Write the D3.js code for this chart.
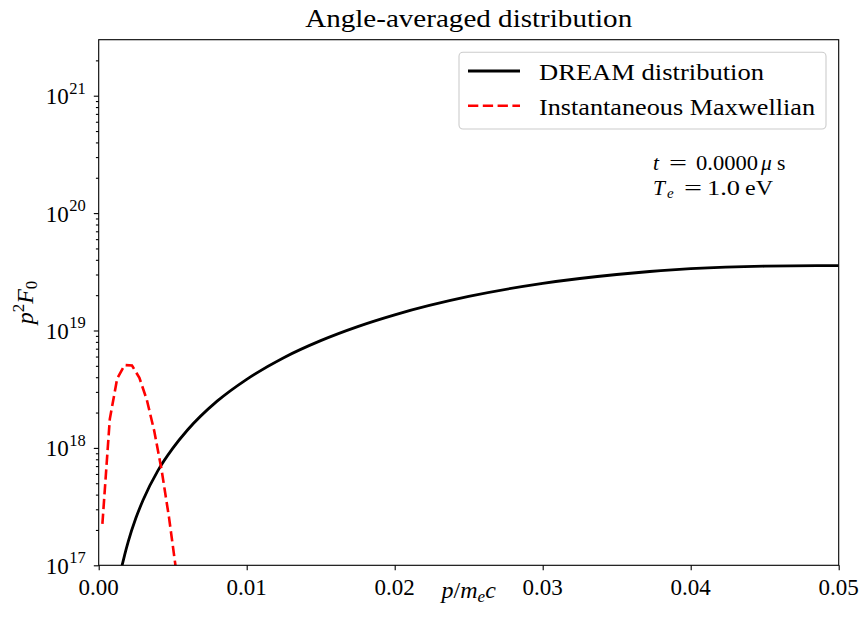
<!DOCTYPE html>
<html><head><meta charset="utf-8">
<script src="https://cdn.jsdelivr.net/npm/d3@7"></script>
<style>
html,body{margin:0;padding:0;background:#fff;}
text{font-family:"Liberation Serif","DejaVu Serif",serif;fill:#000;}
</style></head>
<body>
<svg id="chart" width="863" height="629"></svg>
<script>
// ---------- data ----------
const chartTitle = "Angle-averaged distribution";
const xTicks = [0, 0.01, 0.02, 0.03, 0.04, 0.05];
const xTickLabels = ["0.00", "0.01", "0.02", "0.03", "0.04", "0.05"];
const yTickExps = [17, 18, 19, 20, 21];
const seriesNames = ["DREAM distribution", "Instantaneous Maxwellian"];
// DREAM distribution p^2 F0
const dreamP = [0.00125, 0.0015, 0.00175, 0.002, 0.0025, 0.003, 0.004, 0.005, 0.006, 0.008,
                0.010, 0.0125, 0.015, 0.0175, 0.020, 0.025, 0.030, 0.035, 0.040, 0.045, 0.050];
const dreamF = [6.2e16, 9.0e16, 1.22e17, 1.6e17, 2.5e17, 3.6e17, 6.4e17, 9.9e17, 1.42e18, 2.5e18,
                3.84e18, 5.87e18, 8.2e18, 1.08e19, 1.36e19, 1.95e19, 2.52e19, 3.0e19, 3.36e19, 3.53e19, 3.57e19];
// Instantaneous Maxwellian p^2 F0
const maxwP = [0.00025, 0.00075, 0.00125, 0.00175, 0.00225, 0.00275, 0.00325, 0.00375, 0.00425, 0.00475, 0.00525, 0.00575];
const maxwF = [2.25e17, 1.76e18, 3.9e18, 5.08e18, 5.03e18, 3.95e18, 2.57e18, 1.40e18, 6.5e17, 2.56e17, 8.7e16, 2.6e16];

// ---------- layout ----------
const svg = d3.select("#chart");
const L = 98.7, R = 838.7, T = 39.7, B = 565.3;
const x = d3.scaleLinear().domain([0, 0.05]).range([L, R]);
const y = d3.scaleLog().domain([1e17, Math.pow(10, 21.477)]).range([B, T]);
const tickFont = 23;

svg.append("defs").append("clipPath").attr("id", "clip")
  .append("rect").attr("x", L).attr("y", T).attr("width", R - L).attr("height", B - T);

// minor y ticks
const minor = [];
yTickExps.concat([16]).forEach(e => { for (let k = 2; k <= 9; k++) { const v = k * Math.pow(10, e); if (v > 1e17 && v < y.domain()[1]) minor.push(v); } });

const yMinorAxis = d3.axisLeft(y).tickValues(minor).tickSize(2.8).tickFormat("");
const yMajorAxis = d3.axisLeft(y).tickValues(yTickExps.map(e => Math.pow(10, e))).tickSize(4.9).tickFormat("");
const xAxis = d3.axisBottom(x).tickValues(xTicks).tickSize(4.9).tickFormat("");

function styleAxis(g) {
  g.select(".domain").remove();
  g.selectAll(".tick line").attr("stroke", "#000").attr("stroke-width", 1.1);
}
svg.append("g").attr("transform", `translate(${L},0)`).call(yMinorAxis).call(styleAxis);
svg.append("g").attr("transform", `translate(${L},0)`).call(yMajorAxis).call(styleAxis);
svg.append("g").attr("transform", `translate(0,${B})`).call(xAxis).call(styleAxis);

// x tick labels
svg.append("g").selectAll("text").data(xTicks).join("text")
  .attr("x", d => x(d)).attr("y", B + 29.5)
  .attr("text-anchor", "middle").attr("font-size", tickFont)
  .text((d, i) => xTickLabels[i]);

// y tick labels 10^e
const yl = svg.append("g");
yTickExps.forEach(e => {
  const yy = y(Math.pow(10, e));
  yl.append("text").attr("x", 68.8).attr("y", yy + 8.5).attr("text-anchor", "end")
    .attr("font-size", tickFont).text("10");
  yl.append("text").attr("x", 69.2).attr("y", yy - 2).attr("text-anchor", "start")
    .attr("font-size", 16.5).text(String(e));
});

// lines
const line = d3.line().x(d => x(d[0])).y(d => y(d[1]));
const plot = svg.append("g").attr("clip-path", "url(#clip)");
plot.append("path").datum(dreamP.map((p, i) => [p, dreamF[i]]))
  .attr("d", line.curve(d3.curveMonotoneX)).attr("fill", "none")
  .attr("stroke", "#000").attr("stroke-width", 2.8).attr("stroke-linejoin", "round");
plot.append("path").datum(maxwP.map((p, i) => [p, maxwF[i]]))
  .attr("d", d3.line().x(d => x(d[0])).y(d => y(d[1]))).attr("fill", "none")
  .attr("stroke", "#ff0000").attr("stroke-width", 2.6).attr("stroke-dasharray", "10.3,4.5");

// frame
svg.append("rect").attr("x", L).attr("y", T).attr("width", R - L).attr("height", B - T)
  .attr("fill", "none").attr("stroke", "#000").attr("stroke-width", 1.1);

// title
svg.append("text").attr("x", (L + R) / 2).attr("y", 27).attr("text-anchor", "middle")
  .attr("font-size", 25.5).attr("textLength", 327).attr("lengthAdjust", "spacingAndGlyphs")
  .text(chartTitle);

// x label  p/m_e c
const xl = svg.append("text").attr("x", (L + R) / 2).attr("y", 598).attr("text-anchor", "middle").attr("font-size", 24);
xl.append("tspan").attr("font-style", "italic").text("p");
xl.append("tspan").text("/");
xl.append("tspan").attr("font-style", "italic").text("m");
xl.append("tspan").attr("font-style", "italic").attr("font-size", 17).attr("dy", 4).text("e");
xl.append("tspan").attr("font-style", "italic").attr("dy", -4).text("c");

// y label p^2 F_0
const ylab = svg.append("text").attr("transform", `translate(33,${(T + B) / 2}) rotate(-90)`)
  .attr("text-anchor", "middle").attr("font-size", 24);
ylab.append("tspan").attr("font-style", "italic").text("p");
ylab.append("tspan").attr("font-size", 17).attr("dy", -9).text("2");
ylab.append("tspan").attr("font-style", "italic").attr("dy", 9).text("F");
ylab.append("tspan").attr("font-size", 17).attr("dy", 4).text("0");

// legend
const lg = svg.append("g");
lg.append("rect").attr("x", 459).attr("y", 52.3).attr("width", 367).attr("height", 76.7)
  .attr("rx", 4).attr("fill", "#fff").attr("fill-opacity", 0.8).attr("stroke", "#cccccc").attr("stroke-width", 1.1);
lg.append("line").attr("x1", 468).attr("x2", 520).attr("y1", 71).attr("y2", 71)
  .attr("stroke", "#000").attr("stroke-width", 2.8);
lg.append("line").attr("x1", 468).attr("x2", 520).attr("y1", 105.7).attr("y2", 105.7)
  .attr("stroke", "#ff0000").attr("stroke-width", 2.6).attr("stroke-dasharray", "10.3,4.5");
lg.append("text").attr("x", 539).attr("y", 80).attr("font-size", 23)
  .attr("textLength", 225).attr("lengthAdjust", "spacingAndGlyphs").text(seriesNames[0]);
lg.append("text").attr("x", 539).attr("y", 114.5).attr("font-size", 23)
  .attr("textLength", 276).attr("lengthAdjust", "spacingAndGlyphs").text(seriesNames[1]);

// annotation (one text element, two lines)
const y1 = 170, y2 = 194.5, af = 21.5;
const an = svg.append("text").attr("font-size", af);
an.append("tspan").attr("x", 653).attr("y", y1).attr("font-style", "italic").text("t");
an.append("tspan").attr("x", 669).attr("y", y1).attr("textLength", 18).attr("lengthAdjust", "spacingAndGlyphs").text("=");
an.append("tspan").attr("x", 696).attr("y", y1).attr("textLength", 62).attr("lengthAdjust", "spacingAndGlyphs").text("0.0000");
an.append("tspan").attr("x", 761).attr("y", y1).attr("font-style", "italic").text("μ");
an.append("tspan").attr("x", 777).attr("y", y1).text("s");
an.append("tspan").attr("x", 653).attr("y", y2).attr("font-style", "italic").text("T");
an.append("tspan").attr("x", 667).attr("y", y2 + 3.5).attr("font-style", "italic").attr("font-size", 15).text("e");
an.append("tspan").attr("x", 684).attr("y", y2).attr("textLength", 18).attr("lengthAdjust", "spacingAndGlyphs").text("=");
an.append("tspan").attr("x", 707).attr("y", y2).attr("textLength", 33).attr("lengthAdjust", "spacingAndGlyphs").text("1.0");
an.append("tspan").attr("x", 745).attr("y", y2).attr("textLength", 28).attr("lengthAdjust", "spacingAndGlyphs").text("eV");
</script>
</body></html>
